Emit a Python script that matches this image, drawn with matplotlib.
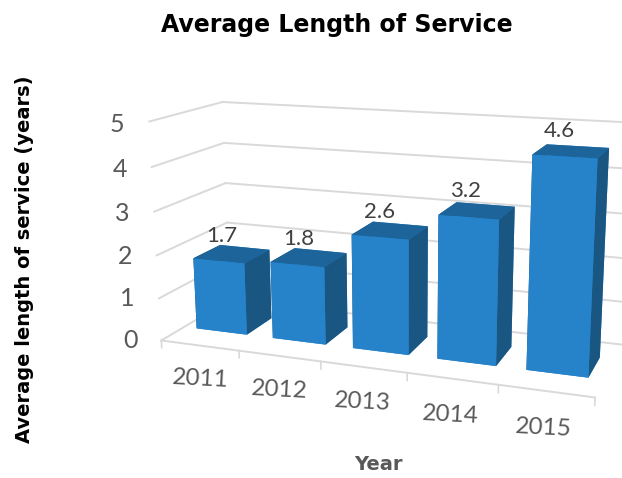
import matplotlib
matplotlib.use('Agg')
import matplotlib.pyplot as plt
from mpl_toolkits.mplot3d import proj3d

years = ['2011', '2012', '2013', '2014', '2015']
service = [1.7, 1.8, 2.6, 3.2, 4.6]
value_ticks = [0, 1, 2, 3, 4, 5]

plt.rcParams['font.family'] = ['Lato', 'DejaVu Sans']

# camera found by fitting the wall and floor corners of the reference
bar_w = 0.665
depth_from, depth_to = 0.31, 0.698
front, top, side = '#2682c9', '#1c6499', '#195682'
grid_c = '#d9d9d9'

W, H = 622, 478
fig = plt.figure(figsize=(W / 100, H / 100), dpi=100)
scale, tx, ty = 2753.65, 390.11, 234.97
box = scale * 0.185
ax = fig.add_axes([(tx - scale * 0.095) / W, (H - ty - scale * 0.095) / H, box / W, box / H],
                  projection='3d')
ax.set_xlim(0, 5)
ax.set_ylim(0, 1)
ax.set_zlim(0, 5)
ax.view_init(elev=14.274, azim=-69.499, roll=0.179)
ax.set_proj_type('persp', focal_length=0.421)
ax.set_box_aspect((1.973, 0.657, 1))
ax.set_axis_off()
ax.computed_zorder = False


def label(x, y, z, s, **kw):
    # flat text placed at a point of the 3d box
    px, py, _ = proj3d.proj_transform(x, y, z, ax.get_proj())
    ax.text2D(px, py, s, transform=ax.transData, ha='center', va='center', zorder=20, **kw)


# walls and floor
for v in value_ticks:
    ax.plot([0, 0], [0, 1], [v, v], color=grid_c, lw=1.4, zorder=1)
    ax.plot([0, 5], [1, 1], [v, v], color=grid_c, lw=1.4, zorder=1)
    label(-0.42, 0, v - 0.1, str(v), fontsize=18, color='#595959')
ax.plot([0, 5], [0, 0], [0, 0], color=grid_c, lw=1.4, zorder=1)
for i in range(6):
    ax.plot([i, i], [0, 0], [0, -0.17], color=grid_c, lw=1.2, zorder=1)

# bars, left to right so the nearer ones come on top
for i, val in enumerate(service):
    ax.bar3d(i + (1 - bar_w) / 2, depth_from, 0, bar_w, depth_to - depth_from, val,
             color=[front, top, front, front, side, side], shade=False, zorder=2 + i)
    label(i + 0.37, (depth_from + depth_to) / 2, val + 0.4, str(val), fontsize=16, color='#404040')
    label(i + 0.49, 0, -0.8, years[i], fontsize=17.5, color='#595959', rotation=-3)

fig.text(337 / W, 1 - 25 / H, 'Average Length of Service', fontsize=17, fontweight='bold',
         family=['DejaVu Sans'], color='black', ha='center', va='center')
fig.text(25 / W, 1 - 259 / H, 'Average length of service (years)', fontsize=14,
         fontweight='bold', family=['DejaVu Sans'], color='black', rotation=90, ha='center',
         va='center')
fig.text(378 / W, 1 - 464 / H, 'Year', fontsize=14, fontweight='bold', family=['DejaVu Sans'],
         color='#595959', ha='center', va='center')

fig.savefig('out.png', dpi=100)
